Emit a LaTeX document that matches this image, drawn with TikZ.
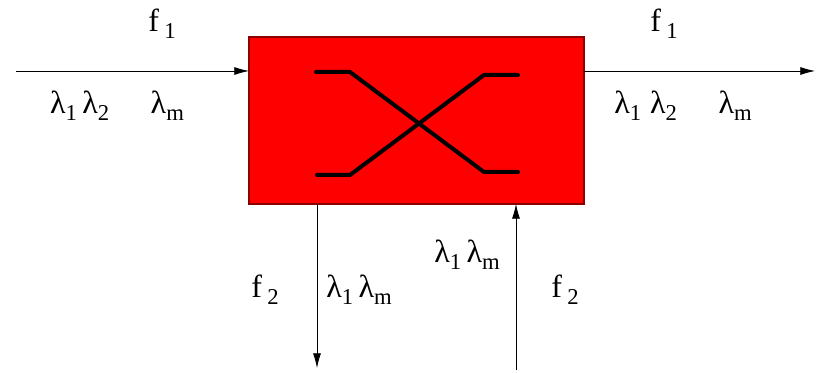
\documentclass[tikz,border=0pt]{standalone}
\usepackage{fontspec}
\setmainfont{Liberation Serif}
\usetikzlibrary{arrows.meta,positioning}
\newcommand{\lsub}[1]{\raisebox{-0.45ex}{\fontsize{17}{17}\selectfont#1}}
\begin{document}
\begin{tikzpicture}[x=0.75pt, y=-0.75pt, lbl/.style={inner sep=0pt, font=\fontsize{24}{25}\selectfont}, arr/.style={-{Latex[length=11pt,width=6pt]}, line width=0.6pt}, fibre/.style={line width=3pt, line cap=round, line join=round}]
\useasboundingbox (0,0) rectangle (819,373);
\node[draw=red!55!black, fill=red, line width=0.8pt, minimum width=251.25pt, minimum height=125.25pt, inner sep=0pt, outer sep=0pt] (sw) at (416.5,120.5) {};
% switching paths
\draw[fibre] (316,72) -- (350,72) -- (484,172) -- (518,172);
\draw[fibre] (317,175) -- (350,175) -- (484,75) -- (518,75);
% ports
\coordinate (in) at (16,71);
\coordinate (out) at (815,71);
\coordinate (drop) at (317,368);
\coordinate (add) at (516,370);
\draw[arr] (in) -- (in -| sw.west);
\draw[arr] (out -| sw.east) -- (out);
\draw[arr] (drop |- sw.south) -- (drop);
\draw[arr] (add) -- (add |- sw.south);
% labels
\node[lbl] (fin) at (162,24) {f\,\lsub{1}};
\node[lbl] (fout) at (664,24) {f\,\lsub{1}};
\node[lbl] (lamin) at (117,106) {λ\lsub{1}\,λ\lsub{2}\hspace{1.3em}λ\lsub{m}};
\node[lbl] (lamout) at (683,106) {λ\lsub{1}\;λ\lsub{2}\hspace{1.3em}λ\lsub{m}};
\node[lbl] (fdrop) at (265,290) {f\,\lsub{2}};
\node[lbl] (lamdrop) at (359,290) {λ\lsub{1}\,λ\lsub{m}};
\node[lbl] (lamadd) at (467,255) {λ\lsub{1}\,λ\lsub{m}};
\node[lbl] (fadd) at (565,290) {f\,\lsub{2}};
\end{tikzpicture}
\end{document}
